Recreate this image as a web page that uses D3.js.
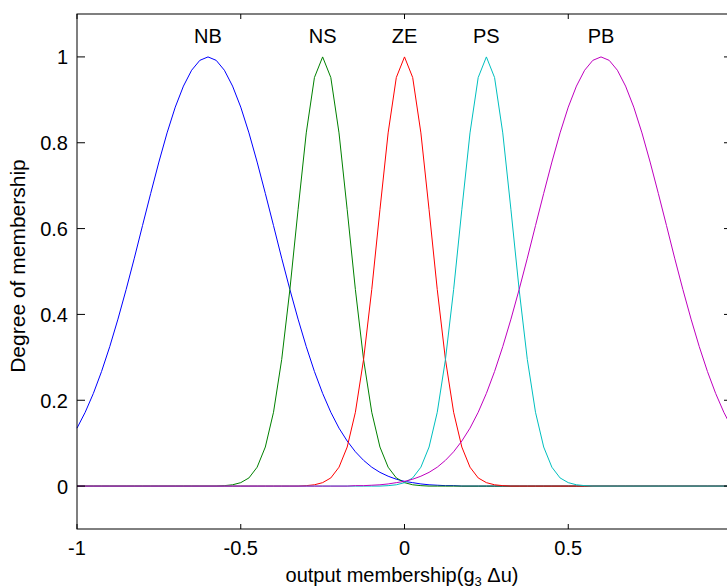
<!DOCTYPE html>
<html>
<head>
<meta charset="utf-8">
<script src="https://cdn.jsdelivr.net/npm/d3@7"></script>
<style>
  body { margin: 0; background: #fff; }
  svg { display: block; font-family: "Liberation Sans", Arial, sans-serif; }
</style>
</head>
<body>
<svg id="chart"></svg>
<script>
// Gaussian output membership functions, sampled on a common grid
const xGrid = [
    -1.000, -0.975, -0.950, -0.925, -0.900, -0.875, -0.850, -0.825, -0.800, -0.775,
    -0.750, -0.725, -0.700, -0.675, -0.650, -0.625, -0.600, -0.575, -0.550, -0.525,
    -0.500, -0.475, -0.450, -0.425, -0.400, -0.375, -0.350, -0.325, -0.300, -0.275,
    -0.250, -0.225, -0.200, -0.175, -0.150, -0.125, -0.100, -0.075, -0.050, -0.025,
     0.000,  0.025,  0.050,  0.075,  0.100,  0.125,  0.150,  0.175,  0.200,  0.225,
     0.250,  0.275,  0.300,  0.325,  0.350,  0.375,  0.400,  0.425,  0.450,  0.475,
     0.500,  0.525,  0.550,  0.575,  0.600,  0.625,  0.650,  0.675,  0.700,  0.725,
     0.750,  0.775,  0.800,  0.825,  0.850,  0.875,  0.900,  0.925,  0.950,  0.975,
     1.000
];

const nbValues = [
    0.135, 0.172, 0.216, 0.267, 0.325, 0.389, 0.458, 0.531, 0.607, 0.682,
    0.755, 0.823, 0.883, 0.932, 0.969, 0.992, 1.000, 0.992, 0.969, 0.932,
    0.883, 0.823, 0.755, 0.682, 0.607, 0.531, 0.458, 0.389, 0.325, 0.267,
    0.216, 0.172, 0.135, 0.105, 0.080, 0.060, 0.044, 0.032, 0.023, 0.016,
    0.011, 0.008, 0.005, 0.003, 0.002, 0.001, 0.001, 0, 0, 0,
    0, 0, 0, 0, 0, 0, 0, 0, 0, 0,
    0, 0, 0, 0, 0, 0, 0, 0, 0, 0,
    0, 0, 0, 0, 0, 0, 0, 0, 0, 0,
    0
];

const nsValues = [
    0, 0, 0, 0, 0, 0, 0, 0, 0, 0,
    0, 0, 0, 0, 0, 0, 0, 0, 0.001, 0.003,
    0.008, 0.019, 0.044, 0.091, 0.172, 0.295, 0.458, 0.644, 0.823, 0.952,
    1.000, 0.952, 0.823, 0.644, 0.458, 0.295, 0.172, 0.091, 0.044, 0.019,
    0.008, 0.003, 0.001, 0, 0, 0, 0, 0, 0, 0,
    0, 0, 0, 0, 0, 0, 0, 0, 0, 0,
    0, 0, 0, 0, 0, 0, 0, 0, 0, 0,
    0, 0, 0, 0, 0, 0, 0, 0, 0, 0,
    0
];

const zeValues = [
    0, 0, 0, 0, 0, 0, 0, 0, 0, 0,
    0, 0, 0, 0, 0, 0, 0, 0, 0, 0,
    0, 0, 0, 0, 0, 0, 0, 0, 0.001, 0.003,
    0.008, 0.019, 0.044, 0.091, 0.172, 0.295, 0.458, 0.644, 0.823, 0.952,
    1.000, 0.952, 0.823, 0.644, 0.458, 0.295, 0.172, 0.091, 0.044, 0.019,
    0.008, 0.003, 0.001, 0, 0, 0, 0, 0, 0, 0,
    0, 0, 0, 0, 0, 0, 0, 0, 0, 0,
    0, 0, 0, 0, 0, 0, 0, 0, 0, 0,
    0
];

const psValues = [
    0, 0, 0, 0, 0, 0, 0, 0, 0, 0,
    0, 0, 0, 0, 0, 0, 0, 0, 0, 0,
    0, 0, 0, 0, 0, 0, 0, 0, 0, 0,
    0, 0, 0, 0, 0, 0, 0, 0, 0.001, 0.003,
    0.008, 0.019, 0.044, 0.091, 0.172, 0.295, 0.458, 0.644, 0.823, 0.952,
    1.000, 0.952, 0.823, 0.644, 0.458, 0.295, 0.172, 0.091, 0.044, 0.019,
    0.008, 0.003, 0.001, 0, 0, 0, 0, 0, 0, 0,
    0, 0, 0, 0, 0, 0, 0, 0, 0, 0,
    0
];

const pbValues = [
    0, 0, 0, 0, 0, 0, 0, 0, 0, 0,
    0, 0, 0, 0, 0, 0, 0, 0, 0, 0,
    0, 0, 0, 0, 0, 0, 0, 0, 0, 0,
    0, 0, 0, 0, 0.001, 0.001, 0.002, 0.003, 0.005, 0.008,
    0.011, 0.016, 0.023, 0.032, 0.044, 0.060, 0.080, 0.105, 0.135, 0.172,
    0.216, 0.267, 0.325, 0.389, 0.458, 0.531, 0.607, 0.682, 0.755, 0.823,
    0.883, 0.932, 0.969, 0.992, 1.000, 0.992, 0.969, 0.932, 0.883, 0.823,
    0.755, 0.682, 0.607, 0.531, 0.458, 0.389, 0.325, 0.267, 0.216, 0.172,
    0.135
];

const setNames = ["NB", "NS", "ZE", "PS", "PB"];
const setCenters = [-0.6, -0.25, 0, 0.25, 0.6];
const setColors = ["#0000ff", "#008000", "#ff0000", "#00bfbf", "#bf00bf"];
const seriesValues = [nbValues, nsValues, zeValues, psValues, pbValues];

const xTicks = [-1, -0.5, 0, 0.5, 1];
const xTickLabels = ["-1", "-0.5", "0", "0.5"];
const yTicks = [0, 0.2, 0.4, 0.6, 0.8, 1];
const yTickLabels = ["0", "0.2", "0.4", "0.6", "0.8", "1"];

const width = 727;
const height = 588;

function drawChart() {
    const left = 77, right = 732, top = 14, bottom = 529;

    const svg = d3.select("#chart")
        .attr("width", width)
        .attr("height", height);

    const x = d3.scaleLinear().domain([-1, 1]).range([left, right]);
    const y = d3.scaleLinear().domain([-0.1, 1.1]).range([bottom, top]);

    // membership curves, plotted in order so later ones sit on top
    const line = d3.line()
        .x((d, i) => x(xGrid[i]))
        .y(d => y(d));

    svg.selectAll("path.mf")
        .data(seriesValues)
        .enter()
        .append("path")
        .attr("class", "mf")
        .attr("d", line)
        .style("fill", "none")
        .style("stroke", (d, i) => setColors[i])
        .style("stroke-width", 1);

    // set labels above each peak
    svg.selectAll("text.mf-label")
        .data(setNames)
        .enter()
        .append("text")
        .attr("class", "mf-label")
        .attr("x", (d, i) => x(setCenters[i]))
        .attr("y", y(1.033))
        .attr("text-anchor", "middle")
        .style("font-size", "20px")
        .text(d => d);

    // box with inward ticks on all four sides
    svg.append("rect")
        .attr("x", left)
        .attr("y", top)
        .attr("width", right - left)
        .attr("height", bottom - top)
        .style("fill", "none")
        .style("stroke", "#000")
        .style("stroke-width", 1);

    const xTickLen = 5, yTickLen = 8;
    const ticks = svg.append("g").style("stroke", "#000").style("stroke-width", 1);
    xTicks.forEach(t => {
        ticks.append("line").attr("x1", x(t)).attr("x2", x(t)).attr("y1", bottom).attr("y2", bottom - xTickLen);
        ticks.append("line").attr("x1", x(t)).attr("x2", x(t)).attr("y1", top).attr("y2", top + xTickLen);
    });
    yTicks.forEach(t => {
        ticks.append("line").attr("x1", left).attr("x2", left + yTickLen).attr("y1", y(t)).attr("y2", y(t));
        ticks.append("line").attr("x1", right).attr("x2", right - yTickLen).attr("y1", y(t)).attr("y2", y(t));
    });

    svg.selectAll("text.x-tick")
        .data(xTickLabels)
        .enter()
        .append("text")
        .attr("class", "x-tick")
        .attr("x", (d, i) => x(xTicks[i]))
        .attr("y", 555)
        .attr("text-anchor", "middle")
        .style("font-size", "20px")
        .text(d => d);

    svg.selectAll("text.y-tick")
        .data(yTickLabels)
        .enter()
        .append("text")
        .attr("class", "y-tick")
        .attr("x", left - 9)
        .attr("y", (d, i) => y(yTicks[i]) + 7.5)
        .attr("text-anchor", "end")
        .style("font-size", "20px")
        .text(d => d);

    // axis titles
    const xTitle = svg.append("text")
        .attr("x", 402)
        .attr("y", 582)
        .attr("text-anchor", "middle")
        .style("font-size", "20px");
    xTitle.append("tspan").text("output membership(g");
    xTitle.append("tspan").attr("dy", 4).style("font-size", "13px").text("3");
    xTitle.append("tspan").attr("dy", -4).text(" \u0394u)");

    svg.append("text")
        .attr("transform", "translate(25,266) rotate(-90)")
        .attr("text-anchor", "middle")
        .style("font-size", "21px")
        .text("Degree of membership");
}

window.onload = drawChart;
</script>
</body>
</html>
